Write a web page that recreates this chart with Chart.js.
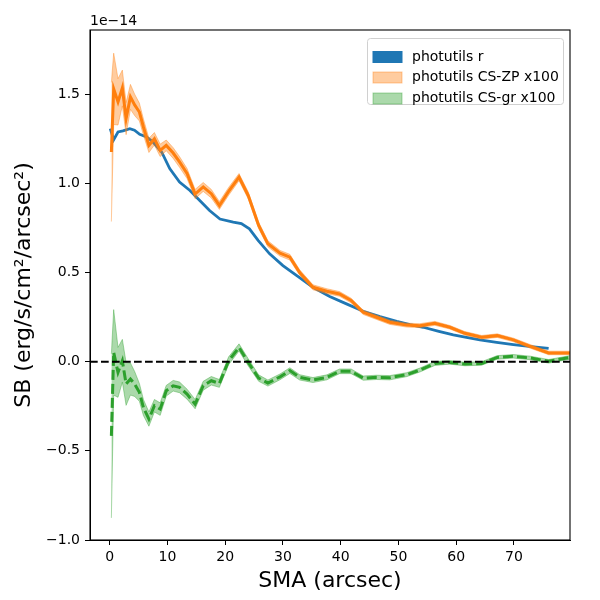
<!DOCTYPE html>
<html><head><meta charset="utf-8">
<script src="https://cdn.jsdelivr.net/npm/chart.js@4.4.1/dist/chart.umd.min.js"></script>
<style>html,body{margin:0;padding:0;background:#fff;} #wrap{width:600px;height:600px;}</style>
</head><body><div id="wrap"><canvas id="c" width="600" height="600"></canvas></div>
<script>
// photutils r profile (units of 1e-14 erg/s/cm2/arcsec2)
const smaR = [0.1, 0.7, 1.45, 2.3, 3.5, 4.3, 5.2, 6.4, 7.5, 9.0, 10.4, 12.1, 13.9, 15.6, 17.3, 19.1, 21.4, 22.8, 24.2, 25.7, 27.7, 30.0, 32.4, 35.2, 38.1, 41.0, 43.9, 46.8, 49.7, 52.0, 54.3, 57.0, 59.5, 62.0, 64.1, 67.0, 69.9, 73.0, 76.0];
const sbR = [1.307, 1.245, 1.288, 1.294, 1.307, 1.298, 1.275, 1.26, 1.232, 1.176, 1.083, 1.007, 0.96, 0.904, 0.848, 0.80, 0.783, 0.774, 0.745, 0.68, 0.605, 0.539, 0.483, 0.417, 0.365, 0.324, 0.283, 0.253, 0.226, 0.208, 0.193, 0.17, 0.15, 0.135, 0.122, 0.108, 0.096, 0.085, 0.075];

// CS profiles (x100), shared SMA sampling
const sma = [0.3, 0.7, 1.45, 2.2, 2.85, 3.6, 4.33, 5.15, 5.85, 6.8, 7.75, 8.75, 9.8, 11.0, 12.1, 13.4, 14.8, 16.2, 17.6, 19.0, 20.6, 22.4, 24.0, 25.8, 27.4, 29.5, 31.2, 32.9, 35.2, 37.6, 39.8, 41.8, 43.9, 46.2, 48.5, 51.4, 53.7, 56.3, 58.9, 61.5, 64.4, 67.1, 69.9, 72.8, 76.0, 79.7];
const sbZP = [1.176, 1.53, 1.457, 1.535, 1.363, 1.485, 1.44, 1.40, 1.316, 1.213, 1.25, 1.185, 1.213, 1.17, 1.12, 1.055, 0.94, 0.98, 0.942, 0.876, 0.955, 1.035, 0.932, 0.764, 0.661, 0.608, 0.586, 0.50, 0.417, 0.395, 0.38, 0.343, 0.277, 0.249, 0.221, 0.205, 0.202, 0.215, 0.193, 0.159, 0.137, 0.146, 0.122, 0.086, 0.049, 0.049];
const errZP = [0.39, 0.2, 0.13, 0.1, 0.09, 0.07, 0.06, 0.05, 0.045, 0.04, 0.035, 0.035, 0.03, 0.03, 0.03, 0.028, 0.026, 0.025, 0.024, 0.022, 0.022, 0.02, 0.02, 0.018, 0.017, 0.016, 0.016, 0.015, 0.014, 0.014, 0.013, 0.013, 0.012, 0.012, 0.012, 0.011, 0.011, 0.011, 0.01, 0.01, 0.01, 0.01, 0.01, 0.01, 0.01, 0.01];
const sbGR = [-0.416, 0.052, -0.06, 0.005, -0.125, -0.097, -0.125, -0.172, -0.257, -0.322, -0.247, -0.266, -0.163, -0.135, -0.144, -0.182, -0.238, -0.135, -0.107, -0.122, 0.005, 0.08, -0.004, -0.092, -0.12, -0.085, -0.05, -0.088, -0.103, -0.088, -0.054, -0.054, -0.092, -0.088, -0.09, -0.073, -0.047, -0.01, -0.004, -0.013, -0.01, 0.024, 0.03, 0.021, 0.002, 0.024];
const errGR = [0.46, 0.24, 0.14, 0.12, 0.12, 0.09, 0.07, 0.05, 0.045, 0.04, 0.035, 0.035, 0.03, 0.03, 0.03, 0.028, 0.026, 0.025, 0.024, 0.022, 0.022, 0.02, 0.02, 0.018, 0.017, 0.016, 0.016, 0.015, 0.014, 0.014, 0.013, 0.013, 0.012, 0.012, 0.012, 0.011, 0.011, 0.011, 0.01, 0.01, 0.01, 0.01, 0.01, 0.01, 0.01, 0.01];

const xTicks = [0, 10, 20, 30, 40, 50, 60, 70];
const yTicks = [-1.0, -0.5, 0.0, 0.5, 1.0, 1.5];
const legendLabels = ['photutils r', 'photutils CS-ZP x100', 'photutils CS-gr x100'];
const offsetLabel = '1e\u221214';
const xLabel = 'SMA (arcsec)';
const yLabel = 'SB (erg/s/cm\u00B2/arcsec\u00B2)';

const FONT = 'DejaVu Sans';
const BLUE = '#1f77b4', ORANGE = '#ff7f0e', GREEN = '#2ca02c';
const ORANGE_A = 'rgba(255,127,14,0.4)', GREEN_A = 'rgba(44,160,44,0.4)';

const pts = (xs, ys) => xs.map((x, i) => ({x: x, y: ys[i]}));
const plus = (ys, es) => ys.map((y, i) => y + es[i]);
const minus = (ys, es) => ys.map((y, i) => y - es[i]);

const base = {pointRadius: 0, pointHoverRadius: 0, tension: 0};

const zeroLine = {
  id: 'zeroLine',
  afterDatasetsDraw(chart) {
    const {ctx, chartArea: a, scales: {y}} = chart;
    const py = y.getPixelForValue(0);
    ctx.save();
    ctx.beginPath(); ctx.rect(a.left, a.top, a.right - a.left, a.bottom - a.top); ctx.clip();
    ctx.strokeStyle = '#000'; ctx.lineWidth = 2; ctx.setLineDash([7.7, 3.3]);
    ctx.beginPath(); ctx.moveTo(a.left, py); ctx.lineTo(a.right, py); ctx.stroke();
    ctx.restore();
  }
};

const frame = {
  id: 'frame',
  afterDraw(chart) {
    const {ctx, chartArea: a} = chart;
    ctx.save();
    ctx.strokeStyle = '#000'; ctx.lineWidth = 1.1;
    ctx.strokeRect(a.left, a.top, a.right - a.left, a.bottom - a.top);
    // offset text
    ctx.fillStyle = '#000'; ctx.font = '14px "' + FONT + '"';
    ctx.textAlign = 'left'; ctx.textBaseline = 'alphabetic';
    ctx.fillText(offsetLabel, a.left, a.top - 5);
    // legend
    const bx = a.right - 203, by = a.top + 8, bw = 196, bh = 66;
    ctx.beginPath();
    if (ctx.roundRect) ctx.roundRect(bx + 0.5, by + 0.5, bw, bh, 3); else ctx.rect(bx + 0.5, by + 0.5, bw, bh);
    ctx.fillStyle = 'rgba(255,255,255,0.8)'; ctx.fill();
    ctx.strokeStyle = '#d0d0d0'; ctx.lineWidth = 1; ctx.stroke();
    const fills = [BLUE, ORANGE_A, GREEN_A];
    const rows = [19, 39.5, 60.5];
    for (let i = 0; i < 3; i++) {
      const cy = by + rows[i];
      ctx.fillStyle = fills[i];
      ctx.fillRect(bx + 6, cy - 5.5, 29, 11);
      ctx.strokeStyle = fills[i]; ctx.lineWidth = 1;
      ctx.strokeRect(bx + 6, cy - 5.5, 29, 11);
      ctx.fillStyle = '#000'; ctx.textBaseline = 'middle';
      ctx.font = '14px "' + FONT + '"';
      ctx.fillText(legendLabels[i], bx + 45, cy);
    }
    ctx.restore();
  }
};

new Chart(document.getElementById('c'), {
  type: 'line',
  data: {
    datasets: [
      Object.assign({}, base, {label: legendLabels[0], data: pts(smaR, sbR), borderColor: BLUE, borderWidth: 2.8, fill: false, order: 10}),
      Object.assign({}, base, {label: 'zp_hi', data: pts(sma, plus(sbZP, errZP)), borderColor: ORANGE_A, borderWidth: 1, fill: false, order: 9}),
      Object.assign({}, base, {label: 'zp_lo', data: pts(sma, minus(sbZP, errZP)), borderColor: ORANGE_A, borderWidth: 1, backgroundColor: ORANGE_A, fill: 1, order: 9}),
      Object.assign({}, base, {label: legendLabels[1], data: pts(sma, sbZP), borderColor: ORANGE, borderWidth: 3, fill: false, order: 8}),
      Object.assign({}, base, {label: 'gr_hi', data: pts(sma, plus(sbGR, errGR)), borderColor: GREEN_A, borderWidth: 1, fill: false, order: 7}),
      Object.assign({}, base, {label: 'gr_lo', data: pts(sma, minus(sbGR, errGR)), borderColor: GREEN_A, borderWidth: 1, backgroundColor: GREEN_A, fill: 4, order: 7}),
      Object.assign({}, base, {label: legendLabels[2], data: pts(sma, sbGR), borderColor: GREEN, borderWidth: 3, borderDash: [10, 4], fill: false, order: 6})
    ]
  },
  options: {
    responsive: false,
    devicePixelRatio: 1,
    animation: false,
    events: [],
    layout: {padding: {left: 0, right: 30, top: 30, bottom: 0}},
    plugins: {legend: {display: false}, tooltip: {enabled: false}, filler: {propagate: false}},
    scales: {
      x: {
        type: 'linear', min: -3.4, max: 79.7,
        afterBuildTicks: s => { s.ticks = xTicks.map(v => ({value: v})); },
        afterFit: s => { s.height = 60; },
        ticks: {color: '#000', font: {family: FONT, size: 14}, padding: 4, maxRotation: 0, autoSkip: false, callback: v => String(v)},
        grid: {drawOnChartArea: false, drawTicks: true, tickLength: 5, color: '#000', tickWidth: 1},
        border: {display: true, color: '#000', width: 1},
        title: {display: true, text: xLabel, color: '#000', font: {family: FONT, size: 22}, padding: {top: 0, bottom: 6}}
      },
      y: {
        type: 'linear', min: -1.0, max: 1.86,
        afterBuildTicks: s => { s.ticks = yTicks.map(v => ({value: v})); },
        afterFit: s => { s.width = 90; },
        ticks: {color: '#000', font: {family: FONT, size: 14}, padding: 5, autoSkip: false,
          callback: v => (v < 0 ? '\u2212' : '') + Math.abs(v).toFixed(1)},
        grid: {drawOnChartArea: false, drawTicks: true, tickLength: 5, color: '#000', tickWidth: 1},
        border: {display: true, color: '#000', width: 1},
        title: {display: true, text: yLabel, color: '#000', font: {family: FONT, size: 22}, padding: {top: 11, bottom: 0}}
      }
    }
  },
  plugins: [zeroLine, frame]
});
</script>
</body></html>
